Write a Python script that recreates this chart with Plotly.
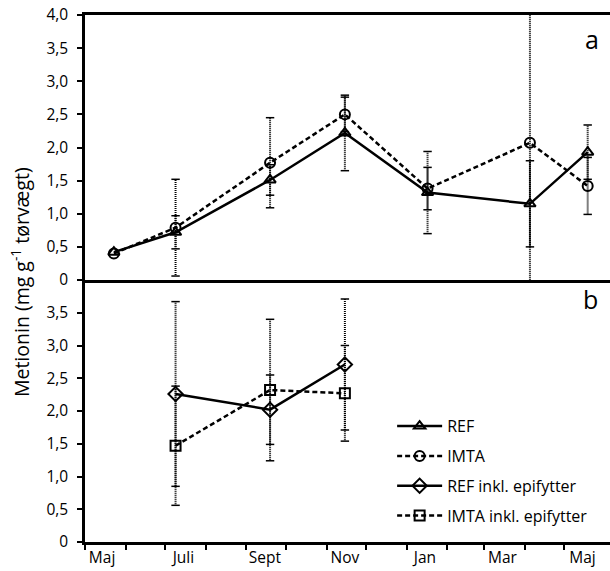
import plotly.graph_objects as go

# Sampling dates and methionine content (mg g-1 dry weight), mean and SD
dates_a = ["2010-05-23", "2010-07-09", "2010-09-19", "2010-11-15",
           "2011-01-17", "2011-04-05", "2011-05-19"]
ref = [0.42, 0.72, 1.51, 2.22, 1.32, 1.15, 1.93]
ref_sd = [0.0, 0.25, 0.23, 0.57, 0.62, 0.65, 0.41]
imta = [0.40, 0.79, 1.77, 2.50, 1.38, 2.07, 1.42]
imta_sd = [0.0, 0.73, 0.68, 0.26, 0.32, 2.30, 0.43]

dates_b = ["2010-07-09", "2010-09-19", "2010-11-15"]
ref_epi = [2.26, 2.02, 2.71]
ref_epi_sd = [1.41, 0.53, 1.00]
imta_epi = [1.47, 2.32, 2.27]
imta_epi_sd = [0.91, 1.08, 0.73]

y_ticks_a = [0, 0.5, 1.0, 1.5, 2.0, 2.5, 3.0, 3.5, 4.0]
y_labels_a = ["0", "0,5", "1,0", "1,5", "2,0", "2,5", "3,0", "3,5", "4,0"]
y_ticks_b = [0, 0.5, 1.0, 1.5, 2.0, 2.5, 3.0, 3.5]
y_labels_b = ["0", "0,5", "1,0", "1,5", "2,0", "2,5", "3,0", "3,5"]

month_starts = ["2010-05-01", "2010-06-01", "2010-07-01", "2010-08-01",
                "2010-09-01", "2010-10-01", "2010-11-01", "2010-12-01",
                "2011-01-01", "2011-02-01", "2011-03-01", "2011-04-01",
                "2011-05-01"]
label_dates = ["2010-05-14", "2010-07-15", "2010-09-15", "2010-11-15",
               "2011-01-15", "2011-03-15", "2011-05-15"]
month_labels = ["Maj", "Juli", "Sept", "Nov", "Jan", "Mar", "Maj"]

FONT = "Open Sans"
fig = go.Figure()


def add_errorbars(dates, vals, sds, xa, ya, dash):
    xs, ys, cx, cy = [], [], [], []
    for d, v, s in zip(dates, vals, sds):
        if s <= 0:
            continue
        xs += [d, d, None]
        ys += [v - s, v + s, None]
        cx += [d, d]
        cy += [v - s, v + s]
    fig.add_trace(go.Scatter(x=xs, y=ys, mode="lines", xaxis=xa, yaxis=ya,
                             line=dict(color="black", width=2, dash=dash),
                             showlegend=False, hoverinfo="skip"))
    fig.add_trace(go.Scatter(x=cx, y=cy, mode="markers", xaxis=xa, yaxis=ya,
                             marker=dict(symbol="line-ew", size=6,
                                         line=dict(color="black", width=1.5)),
                             showlegend=False, hoverinfo="skip"))


# panel a
add_errorbars(dates_a, ref, ref_sd, "x2", "y2", "1px,1px")
add_errorbars(dates_a, imta, imta_sd, "x2", "y2", "0px,1px,1px,0px")
# panel b
add_errorbars(dates_b, ref_epi, ref_epi_sd, "x", "y", "1px,1px")
add_errorbars(dates_b, imta_epi, imta_epi_sd, "x", "y", "0px,1px,1px,0px")

series = [
    ("REF", dates_a, ref, "x2", "y2", "solid", "triangle-up-open", 10),
    ("IMTA", dates_a, imta, "x2", "y2", "5px,3px", "circle-open", 10),
    ("REF inkl. epifytter", dates_b, ref_epi, "x", "y", "solid", "diamond-open", 11),
    ("IMTA inkl. epifytter", dates_b, imta_epi, "x", "y", "5px,3px", "square-open", 10),
]
for name, d, v, xa, ya, dash, sym, sz in series:
    fig.add_trace(go.Scatter(
        x=d, y=v, name=name, legendgroup=name, mode="lines+markers",
        xaxis=xa, yaxis=ya,
        line=dict(color="black", width=2.5, dash=dash),
        marker=dict(symbol=sym, size=sz, color="black",
                    line=dict(color="black", width=2)),
    ))

x_range = ["2010-05-01", "2011-06-05"]
split = 262 / 527

common_y = dict(range=[0, 4], showgrid=False, zeroline=False,
                showline=True, linecolor="black", linewidth=2.5,
                ticks="outside", ticklen=5, tickwidth=2, tickcolor="black",
                ticklabelstandoff=6,
                tickfont=dict(family=FONT, size=15.5, color="black"))

fig.update_layout(
    width=610, height=571,
    margin=dict(l=85, r=0, t=15, b=29),
    paper_bgcolor="white", plot_bgcolor="white",
    font=dict(family=FONT, color="black"),
    xaxis=dict(domain=[0, 1], anchor="y", type="date", range=x_range,
               showgrid=False, zeroline=False, showline=True,
               linecolor="black", linewidth=2.5,
               tickmode="array", tickvals=label_dates, ticktext=month_labels,
               ticks="", tickfont=dict(family=FONT, size=15.5, color="black"),
               minor=dict(tickmode="array", tickvals=month_starts,
                          ticks="outside", ticklen=5, tickwidth=2,
                          tickcolor="black", showgrid=False)),
    xaxis2=dict(domain=[0, 1], anchor="y2", type="date", range=x_range,
                matches="x", showgrid=False, zeroline=False, showline=True,
                mirror=True, linecolor="black", linewidth=2.5,
                showticklabels=False, ticks=""),
    yaxis=dict(domain=[0, split], anchor="x", tickmode="array",
               tickvals=y_ticks_b, ticktext=y_labels_b, **common_y),
    yaxis2=dict(domain=[split, 1], anchor="x2", tickmode="array",
                tickvals=y_ticks_a, ticktext=y_labels_a, **common_y),
    legend=dict(x=0.585, y=0.252, xanchor="left", yanchor="top",
                bgcolor="rgba(0,0,0,0)", tracegroupgap=6, itemwidth=45,
                font=dict(family=FONT, size=16, color="black")),
    annotations=[
        dict(text="Metionin (mg g<sup>-1</sup> tørvægt)", textangle=-90,
             xref="paper", yref="paper", x=-0.124, y=0.493,
             xanchor="center", yanchor="middle", showarrow=False,
             font=dict(family=FONT, size=19.5, color="black")),
        dict(text="a", xref="paper", yref="paper", x=0.966, y=0.955,
             xanchor="center", yanchor="middle", showarrow=False,
             font=dict(family=FONT, size=25, color="black")),
        dict(text="b", xref="paper", yref="paper", x=0.962, y=0.462,
             xanchor="center", yanchor="middle", showarrow=False,
             font=dict(family=FONT, size=25, color="black")),
    ],
)

fig.write_html("out.html")
